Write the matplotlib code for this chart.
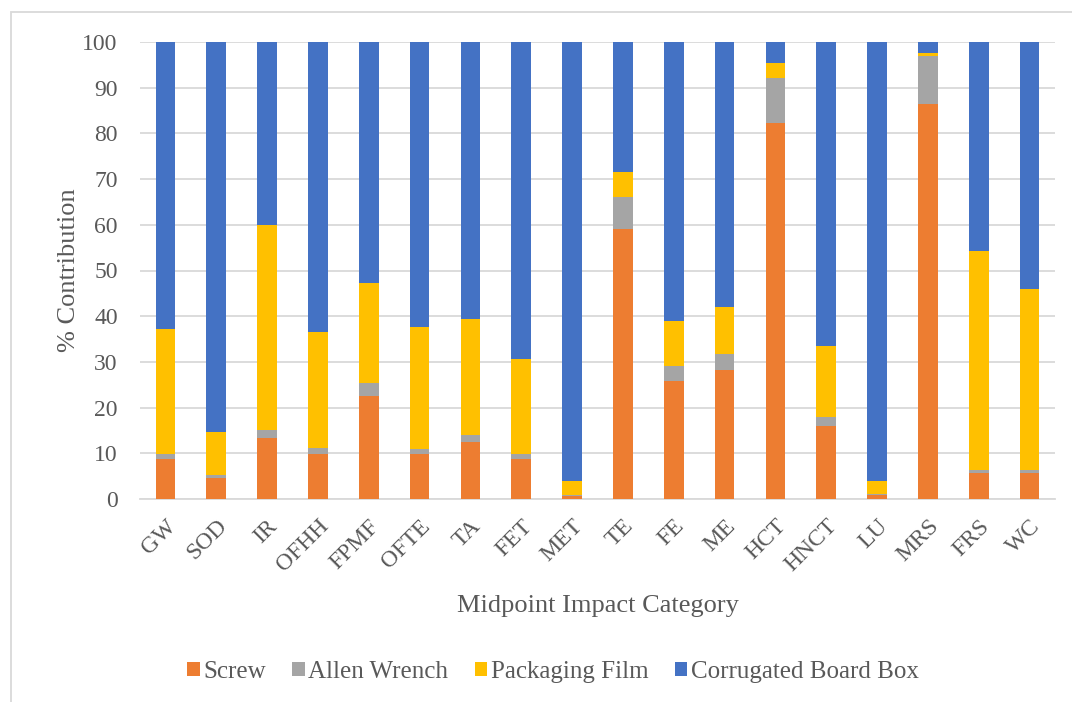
import matplotlib
matplotlib.use("Agg")
import matplotlib.pyplot as plt
import numpy as np
from matplotlib.patches import Rectangle

categories = ["GW", "SOD", "IR", "OFHH", "FPMF", "OFTE", "TA", "FET", "MET",
              "TE", "FE", "ME", "HCT", "HNCT", "LU", "MRS", "FRS", "WC"]

screw = [8.8, 4.5, 13.4, 9.9, 22.6, 9.8, 12.5, 8.7, 0.6,
         59.0, 25.8, 28.2, 82.3, 16.0, 0.8, 86.5, 5.7, 5.6]
allen_wrench = [1.0, 0.7, 1.6, 1.3, 2.7, 1.1, 1.6, 1.1, 0.2,
                7.1, 3.3, 3.6, 9.9, 1.9, 0.3, 10.5, 0.7, 0.8]
packaging_film = [27.3, 9.5, 45.0, 25.4, 21.9, 26.7, 25.2, 20.9, 3.1,
                  5.4, 9.8, 10.2, 3.1, 15.5, 2.8, 0.7, 47.8, 39.5]
corrugated_box = [100 - (a + b + c) for a, b, c in zip(screw, allen_wrench, packaging_film)]

series = [
    ("Screw", screw, "#ED7D31"),
    ("Allen Wrench", allen_wrench, "#A5A5A5"),
    ("Packaging Film", packaging_film, "#FFC000"),
    ("Corrugated Board Box", corrugated_box, "#4472C4"),
]

text_color = "#595959"
grid_color = "#D9D9D9"
font = ["Liberation Serif", "DejaVu Serif"]
plt.rcParams["font.family"] = font

fig = plt.figure(figsize=(10.72, 7.02), dpi=100)
ax = fig.add_axes([140 / 1072, 1 - 499 / 702, 915 / 1072, 457 / 702])

# outer chart frame
fig.patches.append(Rectangle((11 / 1072, -0.05), 1.2, 1 - 12 / 702 + 0.05,
                             transform=fig.transFigure, fill=False,
                             edgecolor=grid_color, linewidth=1.3))

x = np.arange(len(categories))
bottom = np.zeros(len(categories))
handles = []
for name, vals, color in series:
    vals = np.array(vals, dtype=float)
    h = ax.bar(x, vals, width=0.39, bottom=bottom, color=color, label=name,
               edgecolor="none", zorder=3)
    handles.append(h)
    bottom += vals

ax.set_xlim(-0.5, len(categories) - 0.5)
ax.set_ylim(0, 100)
ax.set_yticks(np.arange(0, 101, 10))
ax.yaxis.grid(True, color=grid_color, linewidth=1.3, zorder=0)
ax.set_axisbelow(True)
for side in ["left", "right", "top"]:
    ax.spines[side].set_visible(False)
ax.spines["bottom"].set_color(grid_color)
ax.spines["bottom"].set_linewidth(1.3)
ax.tick_params(axis="both", length=0, colors=text_color, labelsize=17)
ax.tick_params(axis="y", pad=16)
ax.set_xticks(x)
ax.set_xticklabels(categories, rotation=45, ha="right", va="top",
                   rotation_mode="anchor")
ax.tick_params(axis="x", pad=12)

ax.set_ylabel("% Contribution", fontsize=19, color=text_color, labelpad=2)
ax.set_xlabel("Midpoint Impact Category", fontsize=19, color=text_color,
              labelpad=14)

fig.legend(handles=handles, loc="center", bbox_to_anchor=(553 / 1072, 1 - 672 / 702),
           ncol=4, frameon=False, fontsize=18, labelcolor=text_color,
           handlelength=0.5, handleheight=0.5, handletextpad=0.15,
           columnspacing=1.05)

fig.savefig("out.png", dpi=100, facecolor="white")
